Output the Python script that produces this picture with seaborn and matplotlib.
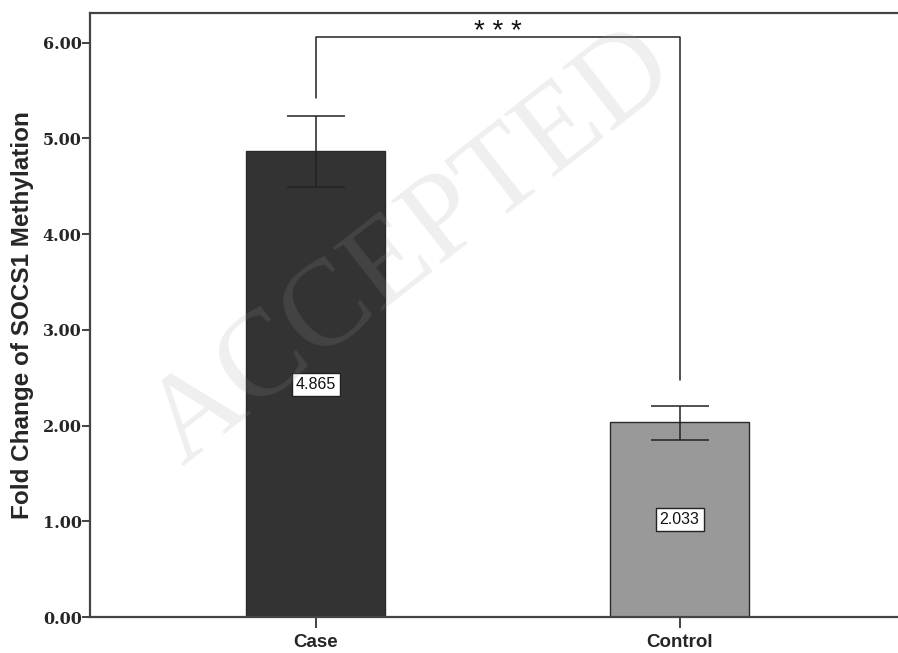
import matplotlib
matplotlib.use("Agg")
import matplotlib.pyplot as plt
import seaborn as sns
import pandas as pd

# values
groups = ["Case", "Control"]
means = [4.865, 2.033]
ci_low = [4.495, 1.850]
ci_high = [5.237, 2.205]
bar_colors = ["#333333", "#999999"]
y_ticks = [0, 1, 2, 3, 4, 5, 6]
bracket_y = 6.06
bracket_feet = [5.42, 2.48]

df = pd.DataFrame({"group": groups, "mean": means})

sns.set_style("white")
plt.rcParams["font.family"] = ["Liberation Sans", "DejaVu Sans"]

fig = plt.figure(figsize=(8.98, 6.53), dpi=100)
ax = fig.add_axes([0.1002, 0.0551, 0.8998, 0.925])

sns.barplot(data=df, x="group", y="mean", hue="group", palette=bar_colors,
            width=0.38, errorbar=None, legend=False, ax=ax,
            edgecolor="#2a2a2a", linewidth=1.0, saturation=1)

# error bars
x_pos = list(range(len(groups)))
yerr = [[m - lo for m, lo in zip(means, ci_low)],
        [hi - m for m, hi in zip(means, ci_high)]]
ax.errorbar(x_pos, means, yerr=yerr, fmt="none", ecolor="#222222",
            elinewidth=1.1, capsize=21, capthick=1.1, zorder=5)

# value boxes in the middle of each bar
for x, m in zip(x_pos, means):
    ax.text(x, m / 2, f"{m:.3f}", ha="center", va="center", fontsize=11.5,
            color="#111111", zorder=6,
            bbox=dict(boxstyle="square,pad=0.25", fc="white", ec="#222222", lw=1))

# significance bracket
ax.plot([0, 0, 1, 1], [bracket_feet[0], bracket_y, bracket_y, bracket_feet[1]],
        color="#222222", lw=1.1, zorder=5)
ax.text(0.5, 6.04, "* * *", ha="center", va="baseline",
        fontsize=20, color="#111111")

ax.set_xlim(-0.62, 1.6)
ax.set_ylim(0, 6.31)
ax.set_yticks(y_ticks)
ax.set_yticklabels([f"{t:.2f}" for t in y_ticks], fontfamily="DejaVu Serif",
                   fontweight="bold", fontsize=11.5)
ax.set_xticks(x_pos)
ax.set_xticklabels(groups, fontweight="bold", fontsize=13.5)
ax.set_xlabel("")
ax.set_ylabel("Fold Change of SOCS1 Methylation", fontsize=17.5,
              fontweight="bold", labelpad=6)
ax.tick_params(axis="y", left=True, direction="out", length=6, width=1.3,
               color="#333333", pad=0)
ax.tick_params(axis="x", bottom=True, direction="out", length=8, width=1.3,
               color="#333333", pad=4)

for side in ["left", "top", "bottom"]:
    ax.spines[side].set_color("#444444")
    ax.spines[side].set_linewidth(1.6)
ax.spines["right"].set_visible(False)

# watermark
fig.text(0.46, 0.62, "ACCEPTED", fontsize=88, fontfamily="Liberation Serif",
         color="#9a9a9a", alpha=0.16, rotation=38, ha="center", va="center",
         zorder=20)

fig.savefig("out.png", dpi=100)
